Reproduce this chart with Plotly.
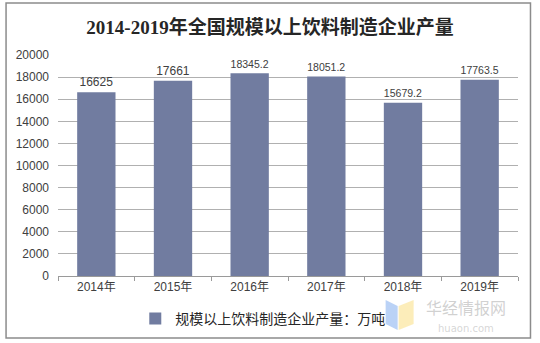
import plotly.graph_objects as go

# Annual output of large-scale beverage manufacturers (10k tonnes)
years = ["2014年", "2015年", "2016年", "2017年", "2018年", "2019年"]
output = [16625, 17661, 18345.2, 18051.2, 15679.2, 17763.5]
labels = ["16625", "17661", "18345.2", "18051.2", "15679.2", "17763.5"]
y_ticks = list(range(0, 20001, 2000))
y_tick_text = [str(v) for v in y_ticks]

series_name = "规模以上饮料制造企业产量：万吨"
title_text = "2014-2019年全国规模以上饮料制造企业产量"

W, H = 540, 343
L, R, T, B = 58, 21.5, 55, 67
pw, ph = W - L - R, H - T - B


def px_x(x):
    return (x - L) / pw


def px_y(y):
    return (H - B - y) / ph


fig = go.Figure()
fig.add_trace(go.Bar(
    x=years,
    y=output,
    name=series_name,
    text=labels,
    textposition="outside",
    cliponaxis=False,
    textfont=dict(family="Liberation Sans, Arial", size=12, color="#404040"),
    marker=dict(color="#717ca0", line=dict(width=0)),
    width=0.5,
    showlegend=True,
))

fig.update_layout(
    width=W,
    height=H,
    margin=dict(l=L, r=R, t=T, b=B, autoexpand=False),
    paper_bgcolor="white",
    plot_bgcolor="white",
    title=dict(
        text="<b>" + title_text + "</b>",
        x=0.5,
        xanchor="center",
        y=1 - 27 / H,
        yanchor="middle",
        font=dict(family="Liberation Serif, Noto Sans CJK SC", size=19, color="#262626"),
    ),
    xaxis=dict(
        type="category",
        showgrid=False,
        showline=True,
        linecolor="#9a9a9a",
        linewidth=1,
        ticks="outside",
        tickson="boundaries",
        ticklen=4,
        tickcolor="#9a9a9a",
        tickfont=dict(family="Liberation Sans, Noto Sans CJK SC", size=12, color="#404040"),
    ),
    yaxis=dict(
        range=[0, 20000],
        tickvals=y_ticks,
        ticktext=y_tick_text,
        showgrid=True,
        gridcolor="#b0b0b0",
        gridwidth=1,
        zeroline=False,
        showline=False,
        ticks="",
        ticklabelstandoff=8,
        tickfont=dict(family="Liberation Sans, Arial", size=12, color="#404040"),
    ),
    bargap=0.5,
    legend=dict(
        orientation="h",
        x=px_x(263),
        xanchor="center",
        y=px_y(319),
        yanchor="middle",
        font=dict(family="Noto Sans CJK SC", size=14, color="#262626"),
        itemwidth=30,
        bgcolor="rgba(0,0,0,0)",
    ),
    shapes=[
        dict(
            type="rect", xref="paper", yref="paper",
            x0=px_x(6), x1=px_x(531), y0=px_y(338), y1=px_y(3),
            line=dict(color="#8c8c8c", width=1.5), fillcolor="rgba(0,0,0,0)",
            layer="below",
        ),
        # watermark emblem
        dict(type="path", xref="paper", yref="paper",
             path=f"M {px_x(386)} {px_y(300)} L {px_x(398)} {px_y(306)} L {px_x(398)} {px_y(330)} L {px_x(386)} {px_y(324)} Z",
             fillcolor="rgba(140,180,240,0.6)", line=dict(width=0)),
        dict(type="path", xref="paper", yref="paper",
             path=f"M {px_x(399)} {px_y(306)} L {px_x(414)} {px_y(300)} L {px_x(414)} {px_y(324)} L {px_x(399)} {px_y(330)} Z",
             fillcolor="rgba(250,225,140,0.6)", line=dict(width=0)),
    ],
    annotations=[
        dict(text="华经情报网", xref="paper", yref="paper",
             x=px_x(466), y=px_y(306.5), xanchor="center", yanchor="middle",
             showarrow=False,
             font=dict(family="Noto Sans CJK SC", size=16, color="rgba(170,170,170,0.55)")),
        dict(text="huaon.com", xref="paper", yref="paper",
             x=px_x(466), y=px_y(328), xanchor="center", yanchor="middle",
             showarrow=False,
             font=dict(family="DejaVu Sans", size=10, color="rgba(180,180,180,0.55)")),
    ],
)

fig.write_html("out.html")
